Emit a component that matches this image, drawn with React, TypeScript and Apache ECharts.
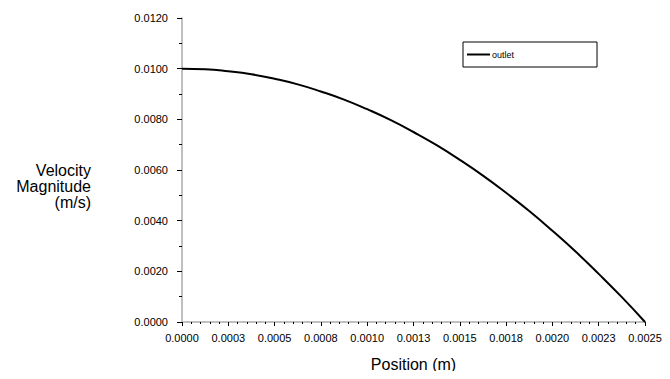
import React, { useEffect, useRef } from "react";
import * as echarts from "echarts";

const positions = [
  0, 0.000125, 0.00025, 0.000375, 0.0005, 0.000625, 0.00075, 0.000875, 0.001,
  0.001125, 0.00125, 0.001375, 0.0015, 0.001625, 0.00175, 0.001875, 0.002,
  0.002125, 0.00225, 0.002375, 0.0025,
];
const velocity = [
  0.01, 0.00998, 0.0099, 0.00978, 0.0096, 0.00938, 0.0091, 0.00878, 0.0084,
  0.00798, 0.0075, 0.00698, 0.0064, 0.00578, 0.0051, 0.00438, 0.0036,
  0.00278, 0.0019, 0.00098, 0,
];
const xTickLabels = [
  "0.0000", "0.0003", "0.0005", "0.0008", "0.0010", "0.0013", "0.0015",
  "0.0018", "0.0020", "0.0023", "0.0025",
];
const yTickLabels = ["0.0000", "0.0020", "0.0040", "0.0060", "0.0080", "0.0100", "0.0120"];
const seriesName = "outlet";
const xTitle = "Position (m)";
const yTitle = "Velocity\nMagnitude\n(m/s)";

const FONT = "'Liberation Sans', Arial, sans-serif";

export default function App() {
  const ref = useRef<HTMLDivElement>(null);
  useEffect(() => {
    if (!ref.current) return;
    const chart = echarts.init(ref.current, undefined, { renderer: "svg" });
    chart.setOption({
      animation: false,
      backgroundColor: "#ffffff",
      textStyle: { fontFamily: FONT },
      grid: { left: 182, right: 25, top: 18, height: 304 },
      legend: {
        left: 463,
        top: 42,
        orient: "horizontal",
        data: [{ name: seriesName, icon: "rect", textStyle: { color: "#000000" } }],
        itemWidth: 23,
        itemHeight: 2,
        borderColor: "#000",
        borderWidth: 1,
        borderRadius: 0,
        padding: [8, 83, 8, 4],
        textStyle: { fontSize: 9, color: "#000000", fontFamily: FONT, padding: [0, 0, 0, -3] },
      },
      graphic: [
        {
          type: "text",
          x: 91,
          y: 162,
          style: {
            text: yTitle,
            fontSize: 16,
            lineHeight: 16,
            fontFamily: FONT,
            fill: "#000",
            align: "right",
            verticalAlign: "top",
          },
        },
      ],
      xAxis: {
        type: "value",
        min: 0,
        max: 0.0025,
        interval: 0.00025,
        name: xTitle,
        nameLocation: "middle",
        nameGap: 34,
        nameTextStyle: { fontSize: 16, color: "#000", fontFamily: FONT },
        splitLine: { show: false },
        axisLine: { show: true, lineStyle: { color: "#c0c0c0", width: 2 } },
        axisTick: { show: true, length: 4, lineStyle: { color: "#000", width: 1 } },
        minorTick: { show: true, splitNumber: 5, length: 2, lineStyle: { color: "#000", width: 1 } },
        axisLabel: {
          fontSize: 11,
          color: "#000",
          margin: 10,
          fontFamily: FONT,
          formatter: (v: number) => xTickLabels[Math.round(v / 0.00025)] ?? "",
        },
      },
      yAxis: {
        type: "value",
        min: 0,
        max: 0.012,
        interval: 0.002,
        splitLine: { show: false },
        axisLine: { show: true, lineStyle: { color: "#c0c0c0", width: 2 } },
        axisTick: { show: true, length: 5, lineStyle: { color: "#000", width: 1 } },
        minorTick: { show: true, splitNumber: 2, length: 3, lineStyle: { color: "#000", width: 1 } },
        axisLabel: {
          fontSize: 11,
          color: "#000",
          margin: 14,
          fontFamily: FONT,
          formatter: (v: number) => yTickLabels[Math.round(v / 0.002)] ?? "",
        },
      },
      series: [
        {
          name: seriesName,
          type: "line",
          data: positions.map((p, i) => [p, velocity[i]]),
          showSymbol: false,
          smooth: true,
          lineStyle: { color: "#000", width: 2 },
          itemStyle: { color: "#000" },
        },
      ],
    });
    return () => chart.dispose();
  }, []);
  return <div ref={ref} style={{ width: 670, height: 379, margin: -8 }} />;
}
